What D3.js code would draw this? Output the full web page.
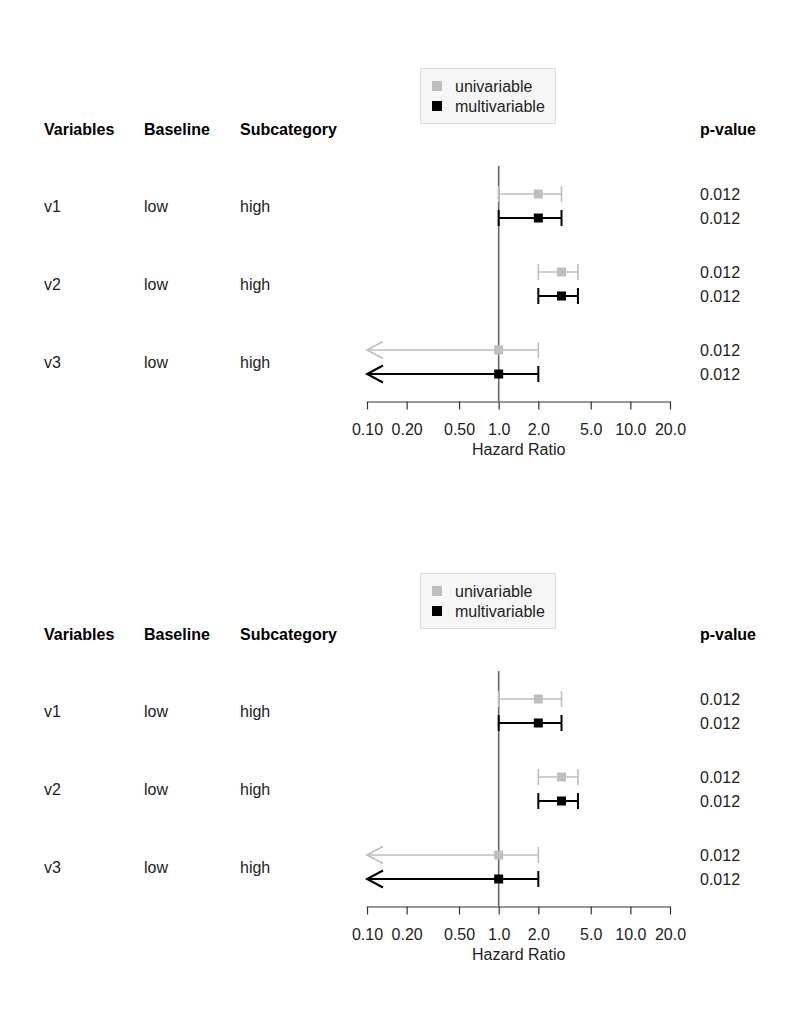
<!DOCTYPE html>
<html><head><meta charset="utf-8">
<script src="https://cdn.jsdelivr.net/npm/d3@7"></script>
<style>
body{margin:0;background:#fff;}
text{font-family:"Liberation Sans",Arial,sans-serif;}
</style></head>
<body>
<script>
const variables = ["v1","v2","v3"];
const baselines = ["low","low","low"];
const subcategories = ["high","high","high"];
const uniHR = [2.0, 3.0, 1.0];
const uniLower = [1.0, 2.0, 0.05];
const uniUpper = [3.0, 4.0, 2.0];
const multiHR = [2.0, 3.0, 1.0];
const multiLower = [1.0, 2.0, 0.05];
const multiUpper = [3.0, 4.0, 2.0];
const uniP = ["0.012","0.012","0.012"];
const multiP = ["0.012","0.012","0.012"];
const tickValues = [0.1, 0.2, 0.5, 1, 2, 5, 10, 20];
const tickLabels = ["0.10","0.20","0.50","1.0","2.0","5.0","10.0","20.0"];
const headers = ["Variables","Baseline","Subcategory","p-value"];
const legendLabels = ["univariable","multivariable"];
const panelOffsets = [0, 505];

const W = 800, H = 1024, FS = 16;
const svg = d3.select("body").append("svg").attr("width", W).attr("height", H);

const x = d3.scaleLog().domain([0.1, 20]).range([367, 670]);
const y = d3.scalePoint().domain(variables).range([206, 362]);
const series = [
  {name: legendLabels[0], hr: uniHR, lo: uniLower, hi: uniUpper, p: uniP, color: "#bebebe", dy: -12, sw: 1.6},
  {name: legendLabels[1], hr: multiHR, lo: multiLower, hi: multiUpper, p: multiP, color: "#000000", dy: 12, sw: 2}
];
const colX = [44, 144, 240, 700];

panelOffsets.forEach(off => {
  const g = svg.append("g").attr("transform", `translate(0,${off})`);

  // legend
  const lg = g.append("g");
  lg.append("rect").attr("x", 420.5).attr("y", 68.5).attr("width", 135).attr("height", 55)
    .attr("fill", "#f6f6f6").attr("stroke", "#dcdcdc");
  series.forEach((s, i) => {
    lg.append("rect").attr("x", 432).attr("y", 81 + i*20).attr("width", 10).attr("height", 10).attr("fill", s.color);
    lg.append("text").attr("x", 455).attr("y", 92 + i*20).attr("font-size", FS).attr("fill", "#222").text(s.name);
  });

  // headers
  headers.forEach((h, i) => {
    g.append("text").attr("x", colX[i]).attr("y", 135).attr("font-size", FS)
      .attr("font-weight", "bold").attr("fill", "#000").text(h);
  });

  // row labels
  variables.forEach((v, i) => {
    const yy = y(v) + 6;
    g.append("text").attr("x", colX[0]).attr("y", yy).attr("font-size", FS).attr("fill", "#222").text(v);
    g.append("text").attr("x", colX[1]).attr("y", yy).attr("font-size", FS).attr("fill", "#222").text(baselines[i]);
    g.append("text").attr("x", colX[2]).attr("y", yy).attr("font-size", FS).attr("fill", "#222").text(subcategories[i]);
  });

  // reference line
  g.append("line").attr("x1", x(1)).attr("x2", x(1)).attr("y1", 166).attr("y2", 401)
    .attr("stroke", "#666").attr("stroke-width", 1.6);

  // CI bars
  series.forEach(s => {
    variables.forEach((v, i) => {
      const yy = y(v) + s.dy;
      const lo = s.lo[i], hi = s.hi[i];
      const xl = x(Math.max(lo, 0.1)), xh = x(Math.min(hi, 20));
      g.append("line").attr("x1", xl).attr("x2", xh).attr("y1", yy).attr("y2", yy)
        .attr("stroke", s.color).attr("stroke-width", s.sw);
      if (lo < 0.1) {
        g.append("path").attr("d", `M${xl+16},${yy-8.5}L${xl},${yy}L${xl+16},${yy+8.5}`)
          .attr("fill", "none").attr("stroke", s.color).attr("stroke-width", s.sw);
      } else {
        g.append("line").attr("x1", xl).attr("x2", xl).attr("y1", yy-8).attr("y2", yy+8)
          .attr("stroke", s.color).attr("stroke-width", s.sw);
      }
      if (hi > 20) {
        g.append("path").attr("d", `M${xh-16},${yy-8.5}L${xh},${yy}L${xh-16},${yy+8.5}`)
          .attr("fill", "none").attr("stroke", s.color).attr("stroke-width", s.sw);
      } else {
        g.append("line").attr("x1", xh).attr("x2", xh).attr("y1", yy-8).attr("y2", yy+8)
          .attr("stroke", s.color).attr("stroke-width", s.sw);
      }
      g.append("rect").attr("x", x(s.hr[i]) - 4.5).attr("y", yy - 4.5).attr("width", 9).attr("height", 9)
        .attr("fill", s.color);
      g.append("text").attr("x", colX[3]).attr("y", yy + 6).attr("font-size", FS).attr("fill", "#222").text(s.p[i]);
    });
  });

  // axis
  const ax = g.append("g").attr("transform", "translate(0,401.5)")
    .call(d3.axisBottom(x).tickValues(tickValues).tickFormat((d, i) => tickLabels[i])
      .tickSize(8).tickSizeOuter(0).tickPadding(14));
  ax.select(".domain").attr("stroke", "#333").attr("stroke-width", 1.2);
  ax.selectAll(".tick line").attr("stroke", "#333").attr("stroke-width", 1.2);
  ax.selectAll(".tick text").attr("font-size", FS).attr("font-family", "Liberation Sans, Arial, sans-serif").attr("fill", "#222");
  g.append("text").attr("x", x(1) + 20).attr("y", 455).attr("text-anchor", "middle")
    .attr("font-size", FS).attr("fill", "#222").text("Hazard Ratio");
});
</script>
</body></html>
